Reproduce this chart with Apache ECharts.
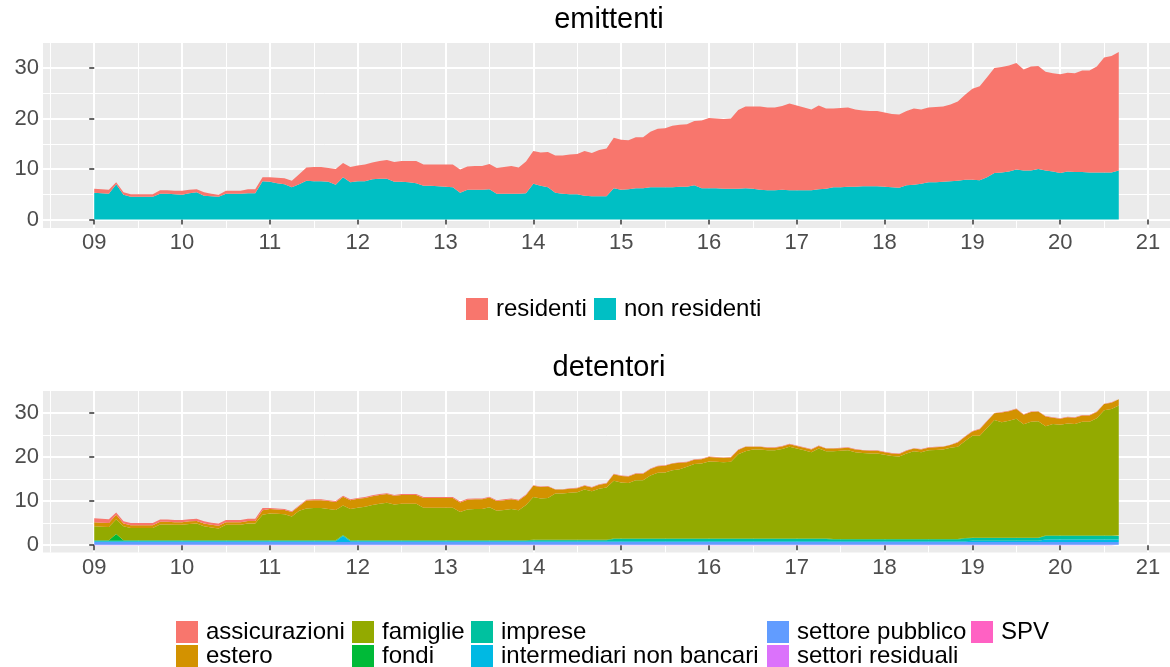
<!DOCTYPE html>
<html><head><meta charset="utf-8">
<script src="https://cdn.jsdelivr.net/npm/echarts@6/dist/echarts.min.js"></script>
<style>html,body{margin:0;padding:0;background:#fff}#c{width:1170px;height:667px}</style>
</head><body><div id="c"></div>
<script>
// monthly observations; x = months since Jan 2009 (0 .. 140 = Sep 2020)
const xTickMonths = [0,12,24,36,48,60,72,84,96,108,120,132,144];
const xTickLabels = ['09','10','11','12','13','14','15','16','17','18','19','20','21'];
const xMinorMonths = [-6,6,18,30,42,54,66,78,90,102,114,126,138];
const yTicks = [0,10,20,30];
const yTickLabels = ['0','10','20','30'];
const yMinor = [5,15,25];

const nonResidenti = [
5.3,5.2,5.1,7.0,4.9,4.5,4.5,4.5,4.5,5.1,5.1,5.0,
4.9,5.2,5.4,4.7,4.6,4.5,5.1,5.1,5.1,5.2,5.2,7.6,
7.5,7.2,7.0,6.4,7.0,7.7,7.6,7.6,7.5,6.9,8.4,7.4,
7.6,7.6,8.0,8.1,8.1,7.5,7.5,7.4,7.2,6.7,6.7,6.6,
6.5,6.4,5.3,5.9,5.9,5.9,6.0,5.1,5.1,5.1,5.1,5.2,
7.1,6.7,6.4,5.3,5.1,5.0,5.0,4.7,4.6,4.6,4.6,6.2,
5.9,6.0,6.2,6.2,6.4,6.4,6.4,6.4,6.5,6.5,6.8,6.2,
6.2,6.2,6.1,6.1,6.1,6.2,6.1,5.9,5.8,5.8,5.9,5.8,
5.8,5.8,5.8,6.0,6.1,6.4,6.4,6.5,6.5,6.6,6.6,6.6,
6.5,6.4,6.3,6.8,6.9,7.1,7.4,7.4,7.5,7.6,7.7,7.9,
7.9,7.8,8.4,9.2,9.3,9.5,9.9,9.7,9.7,10.0,9.7,9.5,
9.2,9.5,9.4,9.4,9.3,9.3,9.3,9.3,9.7];
const residenti = [
0.8,0.8,0.8,0.4,0.5,0.5,0.5,0.5,0.5,0.7,0.7,0.7,
0.8,0.7,0.6,0.7,0.5,0.4,0.6,0.6,0.6,0.8,0.8,0.8,
0.9,1.1,1.2,1.3,2.0,2.6,2.8,2.8,2.7,3.1,2.8,3.0,
3.1,3.3,3.3,3.5,3.7,3.9,4.1,4.2,4.4,4.2,4.2,4.3,
4.4,4.5,4.6,4.6,4.7,4.7,5.0,5.1,5.3,5.5,5.2,6.3,
6.5,6.6,7.0,7.4,7.6,7.9,8.0,8.9,8.6,9.2,9.5,10.0,
9.9,9.7,10.1,10.1,11.0,11.6,11.7,12.2,12.3,12.4,12.7,13.4,
13.9,13.8,13.8,13.9,15.6,16.2,16.3,16.5,16.4,16.4,16.6,17.2,
16.8,16.4,16.0,16.6,15.9,15.6,15.7,15.7,15.3,15.0,14.9,14.9,
14.7,14.5,14.5,14.7,15.1,14.7,14.8,14.9,14.9,15.2,15.7,16.8,
18.0,18.6,19.8,20.8,20.9,21.0,21.1,20.0,20.6,20.4,19.6,19.5,
19.6,19.6,19.6,20.1,20.2,21.0,22.8,23.1,23.5];

const assicurazioni = [
0.9,0.9,0.9,0.5,0.5,0.5,0.5,0.5,0.5,0.5,0.5,0.5,
0.5,0.5,0.5,0.5,0.5,0.5,0.5,0.5,0.5,0.5,0.5,0.5,
0.2,0.2,0.2,0.2,0.2,0.2,0.2,0.2,0.2,0.2,0.2,0.2,
0.2,0.2,0.2,0.2,0.2,0.2,0.2,0.2,0.2,0.2,0.2,0.2,
0.2,0.2,0.2,0.2,0.2,0.2,0.2,0.2,0.2,0.2,0.2,0.2,
0.1,0.1,0.1,0.1,0.1,0.1,0.1,0.1,0.1,0.1,0.1,0.1,
0.1,0.1,0.1,0.1,0.1,0.1,0.1,0.1,0.1,0.1,0.1,0.1,
0.1,0.1,0.1,0.1,0.1,0.1,0.1,0.1,0.1,0.1,0.1,0.1,
0.1,0.1,0.1,0.1,0.1,0.1,0.1,0.1,0.1,0.1,0.1,0.1,
0.1,0.1,0.1,0.1,0.1,0.1,0.1,0.1,0.1,0.1,0.1,0.1,
0.1,0.1,0.1,0.1,0.1,0.1,0.1,0.1,0.1,0.1,0.1,0.1,
0.1,0.1,0.1,0.1,0.1,0.1,0.1,0.1,0.1];
const estero = [
0.9,0.9,0.9,1.0,0.6,0.6,0.6,0.6,0.6,0.6,0.6,0.6,
0.6,0.6,0.6,0.6,0.6,0.6,0.6,0.6,0.6,0.6,0.6,1.0,
1.0,1.0,1.0,1.0,1.0,1.8,1.8,1.8,1.8,1.8,2.0,2.0,
2.0,2.0,2.0,2.0,2.0,2.0,2.0,2.0,2.0,2.2,2.2,2.2,
2.2,2.2,2.2,2.2,2.2,2.2,2.2,2.2,2.2,2.2,2.2,2.2,
2.6,2.6,2.6,0.9,0.9,0.9,0.9,0.9,0.9,0.9,0.9,1.5,
1.5,1.5,1.5,1.5,1.5,1.5,1.5,1.5,1.5,1.0,1.0,1.0,
1.0,1.0,1.0,1.0,1.0,1.0,0.6,0.6,0.6,0.6,0.6,0.6,
0.6,0.6,0.6,0.6,0.6,0.6,0.6,0.6,0.6,0.6,0.6,0.6,
0.6,0.6,0.6,0.6,0.6,0.6,0.6,0.6,0.6,0.6,1.0,1.0,
1.0,1.5,1.5,1.5,2.2,2.2,2.2,2.2,2.2,2.2,2.2,1.4,
1.4,1.4,1.4,1.4,1.4,1.4,1.4,1.4,1.4];
const famiglie = [
3.2,3.1,3.0,3.4,3.2,2.8,2.8,2.8,2.8,3.6,3.6,3.5,
3.5,3.7,3.8,3.2,2.9,2.7,3.5,3.5,3.5,3.8,3.8,5.8,
6.1,6.0,5.9,5.4,6.7,7.2,7.3,7.3,7.1,6.9,6.7,7.1,
7.4,7.6,8.0,8.3,8.5,8.1,8.3,8.3,8.3,7.4,7.4,7.4,
7.4,7.4,6.4,7.0,7.1,7.1,7.5,6.7,6.9,7.1,6.8,8.0,
9.7,9.4,9.5,10.5,10.5,10.7,10.8,11.4,11.0,11.6,11.9,13.1,
12.7,12.6,13.2,13.2,14.3,14.9,15.0,15.5,15.7,16.3,16.9,17.0,
17.5,17.4,17.3,17.4,19.1,19.8,20.2,20.2,20.0,20.0,20.3,20.8,
20.4,20.0,19.6,20.4,19.8,19.9,20.0,20.1,19.7,19.5,19.4,19.4,
19.1,18.8,18.7,19.4,19.9,19.7,20.1,20.2,20.3,20.7,20.9,22.0,
23.1,23.1,24.9,26.7,26.2,26.5,27.0,25.7,26.3,26.4,24.8,25.3,
25.1,25.4,25.3,25.8,25.8,26.6,28.4,28.7,29.5];
const fondi = [
0.1,0.1,0.1,1.5,0.1,0.1,0.1,0.1,0.1,0.1,0.1,0.1,
0.1,0.1,0.1,0.1,0.1,0.1,0.1,0.1,0.1,0.1,0.1,0.1,
0.1,0.1,0.1,0.1,0.1,0.1,0.1,0.1,0.1,0.1,0.1,0.1,
0.1,0.1,0.1,0.1,0.1,0.1,0.1,0.1,0.1,0.1,0.1,0.1,
0.1,0.1,0.1,0.1,0.1,0.1,0.1,0.1,0.1,0.1,0.1,0.1,
0.1,0.1,0.1,0.1,0.1,0.1,0.1,0.1,0.1,0.1,0.1,0.1,
0.1,0.1,0.1,0.1,0.1,0.1,0.1,0.1,0.1,0.1,0.1,0.1,
0.1,0.1,0.1,0.1,0.1,0.1,0.1,0.1,0.1,0.1,0.1,0.1,
0.1,0.1,0.1,0.1,0.1,0.1,0.1,0.1,0.1,0.1,0.1,0.1,
0.1,0.1,0.1,0.1,0.1,0.1,0.1,0.1,0.1,0.1,0.1,0.1,
0.1,0.1,0.1,0.1,0.1,0.1,0.1,0.1,0.1,0.1,0.1,0.1,
0.1,0.1,0.1,0.1,0.1,0.1,0.1,0.1,0.1];
const imprese = [
0.1,0.1,0.1,0.1,0.1,0.1,0.1,0.1,0.1,0.1,0.1,0.1,
0.1,0.1,0.1,0.1,0.1,0.1,0.1,0.1,0.1,0.1,0.1,0.1,
0.1,0.1,0.1,0.1,0.1,0.1,0.1,0.1,0.1,0.1,0.1,0.1,
0.1,0.1,0.1,0.1,0.1,0.1,0.1,0.1,0.1,0.1,0.1,0.1,
0.1,0.1,0.1,0.1,0.1,0.1,0.1,0.1,0.1,0.1,0.1,0.1,
0.2,0.2,0.2,0.2,0.2,0.2,0.2,0.2,0.2,0.2,0.2,0.5,
0.5,0.5,0.5,0.5,0.5,0.5,0.5,0.5,0.5,0.5,0.5,0.5,
0.5,0.5,0.5,0.5,0.5,0.5,0.5,0.5,0.5,0.5,0.5,0.5,
0.5,0.5,0.5,0.5,0.5,0.4,0.4,0.4,0.4,0.4,0.4,0.4,
0.4,0.4,0.4,0.4,0.4,0.4,0.4,0.4,0.4,0.4,0.4,0.6,
0.6,0.6,0.6,0.6,0.6,0.6,0.6,0.6,0.6,0.6,0.8,0.8,
0.8,0.8,0.8,0.8,0.8,0.8,0.8,0.8,0.8];
const intermediari = [
0.2,0.2,0.2,0.2,0.2,0.2,0.2,0.2,0.2,0.2,0.2,0.2,
0.2,0.2,0.2,0.2,0.2,0.2,0.2,0.2,0.2,0.2,0.2,0.2,
0.2,0.2,0.2,0.2,0.2,0.2,0.2,0.2,0.2,0.2,1.4,0.2,
0.2,0.2,0.2,0.2,0.2,0.2,0.2,0.2,0.2,0.2,0.2,0.2,
0.2,0.2,0.2,0.2,0.2,0.2,0.2,0.2,0.2,0.2,0.2,0.2,
0.2,0.2,0.2,0.2,0.2,0.2,0.2,0.2,0.2,0.2,0.2,0.2,
0.2,0.2,0.2,0.2,0.2,0.2,0.2,0.2,0.2,0.2,0.2,0.2,
0.2,0.2,0.2,0.2,0.2,0.2,0.2,0.2,0.2,0.2,0.2,0.2,
0.2,0.2,0.2,0.2,0.2,0.2,0.2,0.2,0.2,0.2,0.2,0.2,
0.2,0.2,0.2,0.2,0.2,0.2,0.2,0.2,0.2,0.2,0.2,0.2,
0.3,0.3,0.3,0.3,0.3,0.3,0.3,0.3,0.3,0.3,0.6,0.6,
0.6,0.6,0.6,0.6,0.6,0.6,0.6,0.6,0.6];
const settorePubblico = [
0.6,0.6,0.6,0.6,0.6,0.6,0.6,0.6,0.6,0.6,0.6,0.6,
0.6,0.6,0.6,0.6,0.6,0.6,0.6,0.6,0.6,0.6,0.6,0.6,
0.6,0.6,0.6,0.6,0.6,0.6,0.6,0.6,0.6,0.6,0.6,0.6,
0.6,0.6,0.6,0.6,0.6,0.6,0.6,0.6,0.6,0.6,0.6,0.6,
0.6,0.6,0.6,0.6,0.6,0.6,0.6,0.6,0.6,0.6,0.6,0.6,
0.6,0.6,0.6,0.6,0.6,0.6,0.6,0.6,0.6,0.6,0.6,0.6,
0.6,0.6,0.6,0.6,0.6,0.6,0.6,0.6,0.6,0.6,0.6,0.6,
0.6,0.6,0.6,0.6,0.6,0.6,0.6,0.6,0.6,0.6,0.6,0.6,
0.6,0.6,0.6,0.6,0.6,0.6,0.6,0.6,0.6,0.6,0.6,0.6,
0.6,0.6,0.6,0.6,0.6,0.6,0.6,0.6,0.6,0.6,0.6,0.6,
0.6,0.6,0.6,0.6,0.6,0.6,0.6,0.6,0.6,0.6,0.6,0.6,
0.6,0.6,0.6,0.6,0.6,0.6,0.6,0.6,0.6];
const settoriResiduali = [
0.1,0.1,0.1,0.1,0.1,0.1,0.1,0.1,0.1,0.1,0.1,0.1,
0.1,0.1,0.1,0.1,0.1,0.1,0.1,0.1,0.1,0.1,0.1,0.1,
0.1,0.1,0.1,0.1,0.1,0.1,0.1,0.1,0.1,0.1,0.1,0.1,
0.1,0.1,0.1,0.1,0.1,0.1,0.1,0.1,0.1,0.1,0.1,0.1,
0.1,0.1,0.1,0.1,0.1,0.1,0.1,0.1,0.1,0.1,0.1,0.1,
0.1,0.1,0.1,0.1,0.1,0.1,0.1,0.1,0.1,0.1,0.1,0.1,
0.1,0.1,0.1,0.1,0.1,0.1,0.1,0.1,0.1,0.1,0.1,0.1,
0.1,0.1,0.1,0.1,0.1,0.1,0.1,0.1,0.1,0.1,0.1,0.1,
0.1,0.1,0.1,0.1,0.1,0.1,0.1,0.1,0.1,0.1,0.1,0.1,
0.1,0.1,0.1,0.1,0.1,0.1,0.1,0.1,0.1,0.1,0.1,0.1,
0.1,0.1,0.1,0.1,0.1,0.1,0.1,0.1,0.1,0.1,0.1,0.1,
0.1,0.1,0.1,0.1,0.1,0.1,0.1,0.1,0.1];
const spv = [
0,0,0,0,0,0,0,0,0,0,0,0, 0,0,0,0,0,0,0,0,0,0,0,0,
0,0,0,0,0,0,0,0,0,0,0,0, 0,0,0,0,0,0,0,0,0,0,0,0,
0,0,0,0,0,0,0,0,0,0,0,0, 0,0,0,0,0,0,0,0,0,0,0,0,
0,0,0,0,0,0,0,0,0,0,0,0, 0,0,0,0,0,0,0,0,0,0,0,0,
0,0,0,0,0,0,0,0,0,0,0,0, 0,0,0,0,0,0,0,0,0,0,0,0,
0,0,0,0,0,0,0,0,0,0,0,0, 0,0,0,0,0,0,0,0,0];

const FONT = 'Liberation Sans, Arial, sans-serif';
const monthIndex = nonResidenti.map((_, i) => i);

// rows are [value, month]; encode puts the value on y so stacking happens on y
function area(name, values, color, idx, stack) {
  return {
    name, type: 'line', stack, xAxisIndex: idx * 2, yAxisIndex: idx * 2,
    data: values.map((v, i) => [v, monthIndex[i]]),
    encode: {x: 1, y: 0},
    showSymbol: false, symbol: 'none', silent: true,
    color, itemStyle: {color},
    lineStyle: {width: 0, color},
    areaStyle: {color, opacity: 1},
    emphasis: {disabled: true},
    animation: false
  };
}
function xAxes(g) {
  return [{
    type: 'value', gridIndex: g, min: -7, max: 147,
    axisLine: {show: false},
    axisTick: {show: true, length: 5, lineStyle: {color: '#333333', width: 1.5}, customValues: xTickMonths},
    axisLabel: {customValues: xTickMonths, formatter: v => xTickLabels[xTickMonths.indexOf(v)],
      color: '#4D4D4D', fontSize: 22, margin: 4, fontFamily: FONT},
    splitLine: {show: true, lineStyle: {color: '#ffffff', width: 2}}
  }, {
    type: 'value', gridIndex: g, min: -7, max: 147, position: 'bottom',
    axisLine: {show: false}, axisLabel: {show: false},
    axisTick: {show: false, customValues: xMinorMonths},
    splitLine: {show: true, lineStyle: {color: '#ffffff', width: 1}}
  }];
}
function yAxes(g) {
  return [{
    type: 'value', gridIndex: g, min: -1.67, max: 34.97,
    axisLine: {show: false},
    axisTick: {show: true, length: 5, lineStyle: {color: '#333333', width: 1.5}, customValues: yTicks},
    axisLabel: {customValues: yTicks, formatter: v => yTickLabels[yTicks.indexOf(v)],
      color: '#4D4D4D', fontSize: 22, margin: 4, fontFamily: FONT},
    splitLine: {show: true, lineStyle: {color: '#ffffff', width: 2}}
  }, {
    type: 'value', gridIndex: g, min: -1.67, max: 34.97, position: 'left',
    axisLine: {show: false}, axisLabel: {show: false},
    axisTick: {show: false, customValues: yMinor},
    splitLine: {show: true, lineStyle: {color: '#ffffff', width: 1}}
  }];
}
const legendText = {color: '#000', fontSize: 24, fontFamily: FONT, padding: [0, 0, 0, 3]};
function oneLegend(name, left, centerY) {
  return {data: [name], orient: 'horizontal', left, top: centerY - 12, itemWidth: 22, itemHeight: 22,
    icon: 'rect', textStyle: legendText, selectedMode: false, padding: 0};
}

const chart = echarts.init(document.getElementById('c'), null, {renderer: 'canvas'});
chart.setOption({
  animation: false,
  backgroundColor: '#ffffff',
  graphic: [
    {type: 'text', x: 609, y: 20, style: {text: 'emittenti', fontSize: 29, fontFamily: FONT, fill: '#000', align: 'center', verticalAlign: 'middle'}},
    {type: 'text', x: 609, y: 368, style: {text: 'detentori', fontSize: 29, fontFamily: FONT, fill: '#000', align: 'center', verticalAlign: 'middle'}}
  ],
  grid: [
    {left: 43, top: 43, width: 1132, height: 185, show: true, backgroundColor: '#EBEBEB', borderWidth: 0},
    {left: 43, top: 391, width: 1132, height: 161.5, show: true, backgroundColor: '#EBEBEB', borderWidth: 0}
  ],
  xAxis: [...xAxes(0), ...xAxes(1)],
  yAxis: [...yAxes(0), ...yAxes(1)],
  legend: [
    oneLegend('residenti', 466, 309),
    oneLegend('non residenti', 594, 309),
    oneLegend('assicurazioni', 176, 632),
    oneLegend('estero', 176, 656),
    oneLegend('famiglie', 352, 632),
    oneLegend('fondi', 352, 656),
    oneLegend('imprese', 471, 632),
    oneLegend('intermediari non bancari', 471, 656),
    oneLegend('settore pubblico', 767, 632),
    oneLegend('settori residuali', 767, 656),
    oneLegend('SPV', 971, 632)
  ],
  series: [
    area('non residenti', nonResidenti, '#00BFC4', 0, 'top'),
    area('residenti', residenti, '#F8766D', 0, 'top'),
    area('SPV', spv, '#FF61C3', 1, 'bot'),
    area('settori residuali', settoriResiduali, '#DB72FB', 1, 'bot'),
    area('settore pubblico', settorePubblico, '#619CFF', 1, 'bot'),
    area('intermediari non bancari', intermediari, '#00B9E3', 1, 'bot'),
    area('imprese', imprese, '#00C19F', 1, 'bot'),
    area('fondi', fondi, '#00BA38', 1, 'bot'),
    area('famiglie', famiglie, '#93AA00', 1, 'bot'),
    area('estero', estero, '#D39200', 1, 'bot'),
    area('assicurazioni', assicurazioni, '#F8766D', 1, 'bot')
  ]
});
</script></body></html>
